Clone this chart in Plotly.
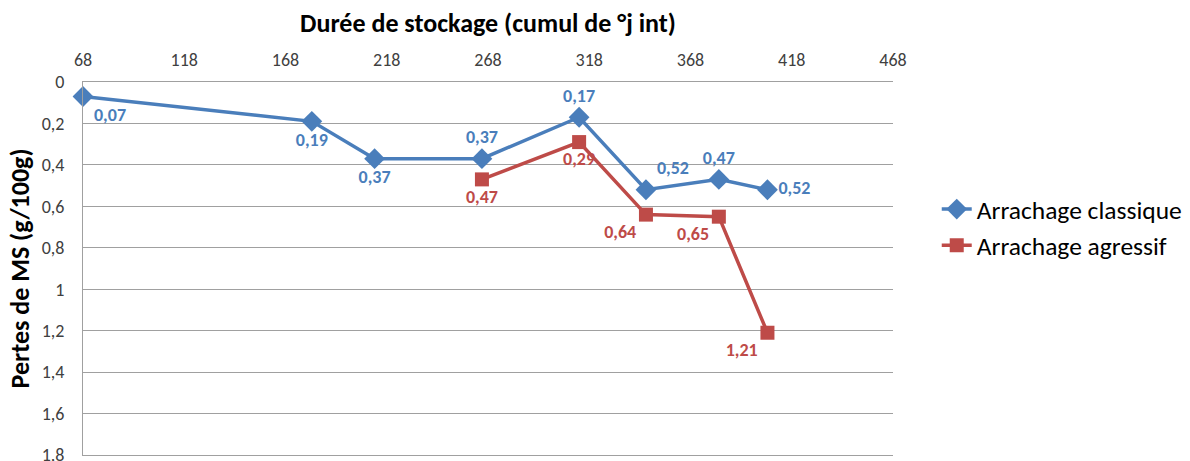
import plotly.graph_objects as go

# Durée de stockage (cumul de °j int) and pertes de MS (g/100g)
x_classique = [68, 181, 212, 265, 313, 346, 382, 406]
y_classique = [0.07, 0.19, 0.37, 0.37, 0.17, 0.52, 0.47, 0.52]
pos_classique = ["bottom right", "bottom center", "bottom center", "top center",
                 "top center", "top right", "top center", "middle right"]

x_agressif = [265, 313, 346, 382, 406]
y_agressif = [0.47, 0.29, 0.64, 0.65, 1.21]
pos_agressif = ["bottom center", "bottom center", "bottom left", "bottom left", "bottom left"]

x_ticks = [68, 118, 168, 218, 268, 318, 368, 418, 468]
y_ticks = [0, 0.2, 0.4, 0.6, 0.8, 1.0, 1.2, 1.4, 1.6, 1.8]
y_ticktext = ["0", "0,2", "0,4", "0,6", "0,8", "1", "1,2", "1,4", "1,6", "1,8"]

BLUE = "#4A7EBB"
RED = "#BE4B48"
GRID = "#A0A0A0"
FONT = "Calibri, Carlito, Lato, sans-serif"


def fr(v):
    return f"{v:.2f}".replace(".", ",")


fig = go.Figure()
fig.add_trace(go.Scatter(
    x=x_classique, y=y_classique, name="Arrachage classique",
    mode="lines+markers+text", legendgroup="a",
    line=dict(color=BLUE, width=3.5),
    marker=dict(symbol="diamond", size=16, color=BLUE),
    text=[fr(v) for v in y_classique], textposition=pos_classique,
    textfont=dict(family=FONT, size=18, color=BLUE, weight="bold"),
    cliponaxis=False,
))
fig.add_trace(go.Scatter(
    x=x_agressif, y=y_agressif, name="Arrachage agressif",
    mode="lines+markers+text", legendgroup="b",
    line=dict(color=RED, width=3.5),
    marker=dict(symbol="square", size=14, color=RED),
    text=[fr(v) for v in y_agressif], textposition=pos_agressif,
    textfont=dict(family=FONT, size=18, color=RED, weight="bold"),
    cliponaxis=False,
))

fig.update_layout(
    width=1190, height=461,
    margin=dict(l=83, r=297, t=82, b=6, autoexpand=False),
    paper_bgcolor="white", plot_bgcolor="white",
    font=dict(family=FONT, color="#404040", size=18),
    xaxis=dict(
        side="top", range=[68, 468], tickvals=x_ticks, automargin=False,
        showgrid=False, zeroline=False,
        showline=True, linecolor=GRID, linewidth=1, mirror=True,
        ticks="", ticklabelstandoff=8,
        tickfont=dict(size=18, color="#404040"),
        title=dict(text="Durée de stockage (cumul de °j int)", standoff=8,
                   font=dict(size=26, color="#000000", weight="bold")),
    ),
    yaxis=dict(
        range=[1.8, 0], tickvals=y_ticks, ticktext=y_ticktext, automargin=False,
        showgrid=True, gridcolor=GRID, gridwidth=1,
        zeroline=False, showline=True, linecolor=GRID, linewidth=1,
        mirror=False, ticks="", ticklabelstandoff=14,
        ticklabeloverflow="allow",
        tickfont=dict(size=18, color="#404040"),
        title=dict(text="Pertes de MS (g/100g)", standoff=4,
                   font=dict(size=26, color="#000000", weight="bold")),
    ),
    legend=dict(
        x=1.054, y=0.61, xanchor="left", yanchor="middle",
        font=dict(size=25.5, color="#000000"),
        tracegroupgap=0, bgcolor="rgba(0,0,0,0)",
    ),
    showlegend=True,
)

fig.write_html("out.html")
